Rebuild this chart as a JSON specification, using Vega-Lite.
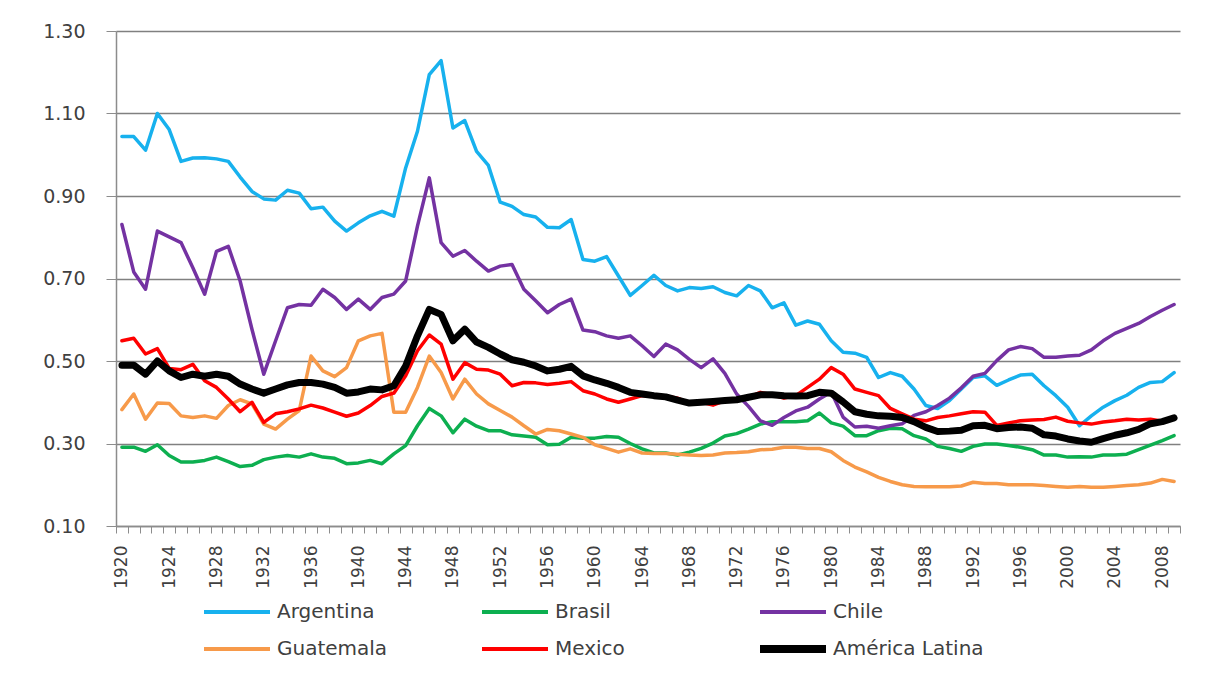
{
  "$schema": "https://vega.github.io/schema/vega-lite/v6.json",
  "width": 1064,
  "height": 495,
  "autosize": {"type": "none"},
  "padding": {"left": 116, "top": 31, "right": 32, "bottom": 149},
  "background": "white",
  "config": {"view": {"stroke": null}, "font": "DejaVu Sans"},
  "data": {"values": [
    {"year":1920,"Argentina":1.044,"Brasil":0.291,"Chile":0.831,"Guatemala":0.382,"Mexico":0.549,"América Latina":0.490},
    {"year":1921,"Argentina":1.044,"Brasil":0.291,"Chile":0.716,"Guatemala":0.420,"Mexico":0.555,"América Latina":0.490},
    {"year":1922,"Argentina":1.011,"Brasil":0.281,"Chile":0.674,"Guatemala":0.359,"Mexico":0.517,"América Latina":0.468},
    {"year":1923,"Argentina":1.100,"Brasil":0.297,"Chile":0.815,"Guatemala":0.398,"Mexico":0.530,"América Latina":0.500},
    {"year":1924,"Argentina":1.061,"Brasil":0.271,"Chile":0.801,"Guatemala":0.397,"Mexico":0.482,"América Latina":0.476},
    {"year":1925,"Argentina":0.984,"Brasil":0.255,"Chile":0.787,"Guatemala":0.367,"Mexico":0.479,"América Latina":0.460},
    {"year":1926,"Argentina":0.992,"Brasil":0.255,"Chile":0.726,"Guatemala":0.363,"Mexico":0.492,"América Latina":0.468},
    {"year":1927,"Argentina":0.993,"Brasil":0.259,"Chile":0.662,"Guatemala":0.367,"Mexico":0.452,"América Latina":0.463},
    {"year":1928,"Argentina":0.990,"Brasil":0.267,"Chile":0.766,"Guatemala":0.361,"Mexico":0.436,"América Latina":0.468},
    {"year":1929,"Argentina":0.984,"Brasil":0.256,"Chile":0.778,"Guatemala":0.392,"Mexico":0.408,"América Latina":0.463},
    {"year":1930,"Argentina":0.946,"Brasil":0.244,"Chile":0.694,"Guatemala":0.406,"Mexico":0.377,"América Latina":0.444},
    {"year":1931,"Argentina":0.911,"Brasil":0.247,"Chile":0.577,"Guatemala":0.396,"Mexico":0.400,"América Latina":0.432},
    {"year":1932,"Argentina":0.893,"Brasil":0.261,"Chile":0.468,"Guatemala":0.347,"Mexico":0.351,"América Latina":0.422},
    {"year":1933,"Argentina":0.890,"Brasil":0.267,"Chile":0.549,"Guatemala":0.335,"Mexico":0.372,"América Latina":0.432},
    {"year":1934,"Argentina":0.914,"Brasil":0.271,"Chile":0.629,"Guatemala":0.359,"Mexico":0.377,"América Latina":0.442},
    {"year":1935,"Argentina":0.907,"Brasil":0.267,"Chile":0.637,"Guatemala":0.380,"Mexico":0.384,"América Latina":0.448},
    {"year":1936,"Argentina":0.869,"Brasil":0.275,"Chile":0.635,"Guatemala":0.512,"Mexico":0.393,"América Latina":0.448},
    {"year":1937,"Argentina":0.873,"Brasil":0.267,"Chile":0.674,"Guatemala":0.476,"Mexico":0.386,"América Latina":0.444},
    {"year":1938,"Argentina":0.839,"Brasil":0.264,"Chile":0.654,"Guatemala":0.462,"Mexico":0.376,"América Latina":0.436},
    {"year":1939,"Argentina":0.815,"Brasil":0.251,"Chile":0.625,"Guatemala":0.484,"Mexico":0.366,"América Latina":0.422},
    {"year":1940,"Argentina":0.835,"Brasil":0.253,"Chile":0.650,"Guatemala":0.549,"Mexico":0.374,"América Latina":0.425},
    {"year":1941,"Argentina":0.852,"Brasil":0.259,"Chile":0.625,"Guatemala":0.561,"Mexico":0.392,"América Latina":0.432},
    {"year":1942,"Argentina":0.863,"Brasil":0.251,"Chile":0.654,"Guatemala":0.567,"Mexico":0.414,"América Latina":0.430},
    {"year":1943,"Argentina":0.851,"Brasil":0.275,"Chile":0.662,"Guatemala":0.376,"Mexico":0.422,"América Latina":0.440},
    {"year":1944,"Argentina":0.968,"Brasil":0.295,"Chile":0.694,"Guatemala":0.376,"Mexico":0.464,"América Latina":0.488},
    {"year":1945,"Argentina":1.057,"Brasil":0.343,"Chile":0.827,"Guatemala":0.436,"Mexico":0.525,"América Latina":0.561},
    {"year":1946,"Argentina":1.194,"Brasil":0.385,"Chile":0.944,"Guatemala":0.512,"Mexico":0.563,"América Latina":0.625},
    {"year":1947,"Argentina":1.228,"Brasil":0.367,"Chile":0.787,"Guatemala":0.472,"Mexico":0.541,"América Latina":0.613},
    {"year":1948,"Argentina":1.065,"Brasil":0.326,"Chile":0.754,"Guatemala":0.408,"Mexico":0.456,"América Latina":0.549},
    {"year":1949,"Argentina":1.083,"Brasil":0.359,"Chile":0.768,"Guatemala":0.456,"Mexico":0.496,"América Latina":0.577},
    {"year":1950,"Argentina":1.008,"Brasil":0.342,"Chile":0.742,"Guatemala":0.420,"Mexico":0.480,"América Latina":0.546},
    {"year":1951,"Argentina":0.974,"Brasil":0.331,"Chile":0.718,"Guatemala":0.396,"Mexico":0.478,"América Latina":0.533},
    {"year":1952,"Argentina":0.885,"Brasil":0.331,"Chile":0.730,"Guatemala":0.380,"Mexico":0.468,"América Latina":0.517},
    {"year":1953,"Argentina":0.875,"Brasil":0.321,"Chile":0.734,"Guatemala":0.364,"Mexico":0.440,"América Latina":0.503},
    {"year":1954,"Argentina":0.855,"Brasil":0.318,"Chile":0.674,"Guatemala":0.343,"Mexico":0.448,"América Latina":0.497},
    {"year":1955,"Argentina":0.849,"Brasil":0.315,"Chile":0.646,"Guatemala":0.323,"Mexico":0.447,"América Latina":0.488},
    {"year":1956,"Argentina":0.824,"Brasil":0.297,"Chile":0.617,"Guatemala":0.334,"Mexico":0.443,"América Latina":0.476},
    {"year":1957,"Argentina":0.823,"Brasil":0.298,"Chile":0.637,"Guatemala":0.331,"Mexico":0.446,"América Latina":0.480},
    {"year":1958,"Argentina":0.843,"Brasil":0.315,"Chile":0.650,"Guatemala":0.323,"Mexico":0.450,"América Latina":0.487},
    {"year":1959,"Argentina":0.746,"Brasil":0.313,"Chile":0.575,"Guatemala":0.315,"Mexico":0.428,"América Latina":0.464},
    {"year":1960,"Argentina":0.742,"Brasil":0.313,"Chile":0.571,"Guatemala":0.297,"Mexico":0.420,"América Latina":0.454},
    {"year":1961,"Argentina":0.753,"Brasil":0.317,"Chile":0.561,"Guatemala":0.288,"Mexico":0.408,"América Latina":0.446},
    {"year":1962,"Argentina":0.706,"Brasil":0.315,"Chile":0.555,"Guatemala":0.279,"Mexico":0.400,"América Latina":0.436},
    {"year":1963,"Argentina":0.659,"Brasil":0.300,"Chile":0.561,"Guatemala":0.287,"Mexico":0.408,"América Latina":0.424},
    {"year":1964,"Argentina":0.683,"Brasil":0.287,"Chile":0.537,"Guatemala":0.277,"Mexico":0.416,"América Latina":0.420},
    {"year":1965,"Argentina":0.708,"Brasil":0.277,"Chile":0.511,"Guatemala":0.276,"Mexico":0.415,"América Latina":0.416},
    {"year":1966,"Argentina":0.683,"Brasil":0.277,"Chile":0.541,"Guatemala":0.276,"Mexico":0.415,"América Latina":0.413},
    {"year":1967,"Argentina":0.670,"Brasil":0.272,"Chile":0.527,"Guatemala":0.274,"Mexico":0.410,"América Latina":0.405},
    {"year":1968,"Argentina":0.678,"Brasil":0.279,"Chile":0.504,"Guatemala":0.272,"Mexico":0.398,"América Latina":0.398},
    {"year":1969,"Argentina":0.676,"Brasil":0.288,"Chile":0.484,"Guatemala":0.271,"Mexico":0.400,"América Latina":0.400},
    {"year":1970,"Argentina":0.680,"Brasil":0.301,"Chile":0.505,"Guatemala":0.272,"Mexico":0.393,"América Latina":0.402},
    {"year":1971,"Argentina":0.666,"Brasil":0.318,"Chile":0.470,"Guatemala":0.277,"Mexico":0.404,"América Latina":0.404},
    {"year":1972,"Argentina":0.658,"Brasil":0.324,"Chile":0.420,"Guatemala":0.278,"Mexico":0.408,"América Latina":0.406},
    {"year":1973,"Argentina":0.683,"Brasil":0.335,"Chile":0.390,"Guatemala":0.280,"Mexico":0.412,"América Latina":0.412},
    {"year":1974,"Argentina":0.670,"Brasil":0.347,"Chile":0.355,"Guatemala":0.285,"Mexico":0.424,"América Latina":0.418},
    {"year":1975,"Argentina":0.629,"Brasil":0.353,"Chile":0.344,"Guatemala":0.286,"Mexico":0.418,"América Latina":0.418},
    {"year":1976,"Argentina":0.641,"Brasil":0.353,"Chile":0.363,"Guatemala":0.291,"Mexico":0.410,"América Latina":0.416},
    {"year":1977,"Argentina":0.587,"Brasil":0.353,"Chile":0.379,"Guatemala":0.291,"Mexico":0.416,"América Latina":0.415},
    {"year":1978,"Argentina":0.597,"Brasil":0.355,"Chile":0.388,"Guatemala":0.288,"Mexico":0.436,"América Latina":0.416},
    {"year":1979,"Argentina":0.589,"Brasil":0.374,"Chile":0.408,"Guatemala":0.288,"Mexico":0.456,"América Latina":0.424},
    {"year":1980,"Argentina":0.549,"Brasil":0.350,"Chile":0.425,"Guatemala":0.280,"Mexico":0.484,"América Latina":0.422},
    {"year":1981,"Argentina":0.521,"Brasil":0.342,"Chile":0.364,"Guatemala":0.259,"Mexico":0.468,"América Latina":0.401},
    {"year":1982,"Argentina":0.519,"Brasil":0.319,"Chile":0.340,"Guatemala":0.243,"Mexico":0.432,"América Latina":0.377},
    {"year":1983,"Argentina":0.509,"Brasil":0.319,"Chile":0.342,"Guatemala":0.231,"Mexico":0.424,"América Latina":0.371},
    {"year":1984,"Argentina":0.460,"Brasil":0.331,"Chile":0.337,"Guatemala":0.218,"Mexico":0.416,"América Latina":0.367},
    {"year":1985,"Argentina":0.472,"Brasil":0.337,"Chile":0.343,"Guatemala":0.208,"Mexico":0.385,"América Latina":0.366},
    {"year":1986,"Argentina":0.463,"Brasil":0.336,"Chile":0.348,"Guatemala":0.200,"Mexico":0.372,"América Latina":0.363},
    {"year":1987,"Argentina":0.432,"Brasil":0.319,"Chile":0.368,"Guatemala":0.196,"Mexico":0.359,"América Latina":0.353},
    {"year":1988,"Argentina":0.392,"Brasil":0.311,"Chile":0.377,"Guatemala":0.195,"Mexico":0.355,"América Latina":0.339},
    {"year":1989,"Argentina":0.385,"Brasil":0.293,"Chile":0.392,"Guatemala":0.195,"Mexico":0.363,"América Latina":0.329},
    {"year":1990,"Argentina":0.404,"Brasil":0.288,"Chile":0.410,"Guatemala":0.195,"Mexico":0.367,"América Latina":0.330},
    {"year":1991,"Argentina":0.432,"Brasil":0.281,"Chile":0.435,"Guatemala":0.197,"Mexico":0.372,"América Latina":0.332},
    {"year":1992,"Argentina":0.460,"Brasil":0.293,"Chile":0.463,"Guatemala":0.206,"Mexico":0.377,"América Latina":0.343},
    {"year":1993,"Argentina":0.464,"Brasil":0.299,"Chile":0.470,"Guatemala":0.203,"Mexico":0.376,"América Latina":0.344},
    {"year":1994,"Argentina":0.441,"Brasil":0.299,"Chile":0.501,"Guatemala":0.203,"Mexico":0.344,"América Latina":0.336},
    {"year":1995,"Argentina":0.454,"Brasil":0.295,"Chile":0.527,"Guatemala":0.200,"Mexico":0.350,"América Latina":0.339},
    {"year":1996,"Argentina":0.466,"Brasil":0.291,"Chile":0.535,"Guatemala":0.200,"Mexico":0.355,"América Latina":0.340},
    {"year":1997,"Argentina":0.468,"Brasil":0.285,"Chile":0.530,"Guatemala":0.200,"Mexico":0.357,"América Latina":0.337},
    {"year":1998,"Argentina":0.440,"Brasil":0.272,"Chile":0.509,"Guatemala":0.198,"Mexico":0.358,"América Latina":0.321},
    {"year":1999,"Argentina":0.416,"Brasil":0.272,"Chile":0.509,"Guatemala":0.196,"Mexico":0.364,"América Latina":0.318},
    {"year":2000,"Argentina":0.388,"Brasil":0.267,"Chile":0.512,"Guatemala":0.194,"Mexico":0.354,"América Latina":0.311},
    {"year":2001,"Argentina":0.343,"Brasil":0.268,"Chile":0.514,"Guatemala":0.196,"Mexico":0.350,"América Latina":0.306},
    {"year":2002,"Argentina":0.367,"Brasil":0.267,"Chile":0.527,"Guatemala":0.194,"Mexico":0.347,"América Latina":0.303},
    {"year":2003,"Argentina":0.388,"Brasil":0.272,"Chile":0.549,"Guatemala":0.194,"Mexico":0.352,"América Latina":0.312},
    {"year":2004,"Argentina":0.404,"Brasil":0.272,"Chile":0.567,"Guatemala":0.196,"Mexico":0.355,"América Latina":0.320},
    {"year":2005,"Argentina":0.417,"Brasil":0.274,"Chile":0.579,"Guatemala":0.198,"Mexico":0.359,"América Latina":0.326},
    {"year":2006,"Argentina":0.436,"Brasil":0.285,"Chile":0.591,"Guatemala":0.200,"Mexico":0.357,"América Latina":0.334},
    {"year":2007,"Argentina":0.448,"Brasil":0.296,"Chile":0.608,"Guatemala":0.204,"Mexico":0.359,"América Latina":0.348},
    {"year":2008,"Argentina":0.450,"Brasil":0.307,"Chile":0.623,"Guatemala":0.213,"Mexico":0.354,"América Latina":0.353},
    {"year":2009,"Argentina":0.472,"Brasil":0.319,"Chile":0.637,"Guatemala":0.208,"América Latina":0.362}
  ]},
  "transform": [
    {"fold": ["Argentina", "Brasil", "Chile", "Guatemala", "Mexico", "América Latina"], "as": ["series", "value"]}
  ],
  "mark": {"type": "line", "strokeJoin": "round", "strokeCap": "round"},
  "encoding": {
    "x": {
      "field": "year", "type": "ordinal",
      "scale": {"type": "band", "paddingInner": 0, "paddingOuter": 0},
      "axis": {
        "title": null, "tickBand": "extent", "grid": false,
        "labelExpr": "datum.value % 4 === 0 ? datum.label : ''",
        "labelAngle": -90, "labelOverlap": false, "labelFontSize": 17,
        "labelFont": "DejaVu Sans", "labelColor": "#404040", "labelPadding": 12,
        "tickSize": 7, "tickColor": "#8c8c8c", "domainColor": "#8c8c8c", "domainWidth": 1.5
      }
    },
    "y": {
      "field": "value", "type": "quantitative",
      "scale": {"domain": [0.1, 1.3], "nice": false, "zero": false},
      "axis": {
        "title": null, "values": [0.1, 0.3, 0.5, 0.7, 0.9, 1.1, 1.3], "format": ".2f",
        "labelFontSize": 19, "labelFont": "DejaVu Sans", "labelColor": "#404040", "labelPadding": 21,
        "tickSize": 10, "tickColor": "#8c8c8c", "domainColor": "#8c8c8c", "domainWidth": 1.5,
        "grid": true, "gridColor": "#808080", "gridWidth": 1.3
      }
    },
    "color": {
      "field": "series", "type": "nominal",
      "scale": {
        "domain": ["Argentina", "Brasil", "Chile", "Guatemala", "Mexico", "América Latina"],
        "range": ["#17B1EE", "#0DAF50", "#7432A2", "#F79A4A", "#FF0000", "#000000"]
      },
      "legend": {
        "title": null, "orient": "none", "legendX": 111, "legendY": 568,
        "direction": "horizontal", "columns": 3, "symbolType": "M-2.2,0L2.2,0", "symbolSize": 900,
        "symbolStrokeWidth": 4, "labelFontSize": 20, "labelFont": "DejaVu Sans", "labelColor": "#404040",
        "labelOffset": 30, "columnPadding": 38, "rowPadding": 8, "gridAlign": "all", "padding": 0, "labelLimit": 300,
        "encode": {"symbols": {"update": {"strokeWidth": {"signal": "datum.value === 'América Latina' ? 8 : 4"}}}}
      }
    },
    "strokeWidth": {
      "condition": {"test": "datum.series === 'América Latina'", "value": 7},
      "value": 3.5
    }
  }
}
